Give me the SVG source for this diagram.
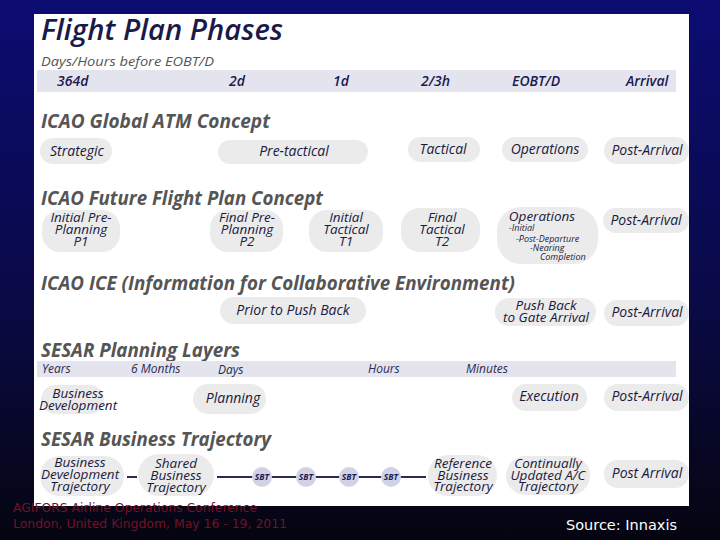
<svg xmlns="http://www.w3.org/2000/svg" width="720" height="540" viewBox="0 0 720 540">
<defs>
<linearGradient id="bg" x1="0" y1="0" x2="0" y2="1">
<stop offset="0" stop-color="#0c0c72"/>
<stop offset="0.55" stop-color="#0a0a48"/>
<stop offset="1" stop-color="#050510"/>
</linearGradient>
<style>
.pill{fill:#ebebeb;}
.band{fill:#e4e4ef;}
.t{font-family:"Open Sans","DejaVu Sans",sans-serif;font-style:italic;font-size:14px;fill:#1a1a40;text-anchor:middle;}
.m{font-family:"Open Sans","DejaVu Sans",sans-serif;font-style:italic;font-size:13.5px;fill:#1a1a40;text-anchor:middle;}
.ts{font-family:"Open Sans","DejaVu Sans",sans-serif;font-style:italic;font-size:9px;fill:#1a1a40;}
.h{font-family:"Open Sans","DejaVu Sans",sans-serif;font-style:italic;font-weight:700;font-size:19px;fill:#555555;}
.b1{font-family:"Open Sans","DejaVu Sans",sans-serif;font-style:italic;font-weight:600;font-size:14px;fill:#1a1a50;}
.b2{font-family:"Open Sans","DejaVu Sans",sans-serif;font-style:italic;font-size:12px;fill:#2a2a50;}
.sbt{fill:#d2d2e6;}
.sbtt{font-family:"Open Sans","DejaVu Sans",sans-serif;font-style:italic;font-weight:700;font-size:8.5px;fill:#1a1a50;text-anchor:middle;}
.conn{stroke:#2a2a5a;stroke-width:2;fill:none;}
.foot{font-family:"DejaVu Sans",Verdana,sans-serif;font-size:13px;fill:#741224;}
</style>
</defs>
<rect x="0" y="0" width="720" height="540" fill="url(#bg)"/>
<rect x="34" y="14" width="655" height="492" fill="#ffffff"/>

<g id="title">
<text x="41" y="40" font-family="'Open Sans','DejaVu Sans',sans-serif" font-style="italic" font-weight="600" font-size="28" fill="#1a1a4a" textLength="242" lengthAdjust="spacingAndGlyphs">Flight Plan Phases</text>
<text x="41" y="66" font-family="'Open Sans','DejaVu Sans',sans-serif" font-style="italic" font-size="13" fill="#555555" textLength="173" lengthAdjust="spacingAndGlyphs">Days/Hours before EOBT/D</text>
</g>

<g id="band-days">
<rect class="band" x="37" y="70" width="639" height="22"/>
<text class="b1" x="57" y="86">364d</text>
<text class="b1" x="229" y="86">2d</text>
<text class="b1" x="333" y="86">1d</text>
<text class="b1" x="421" y="86">2/3h</text>
<text class="b1" x="512" y="86">EOBT/D</text>
<text class="b1" x="626" y="86">Arrival</text>
</g>

<g id="heading-global">
<text class="h" x="41" y="128" textLength="229" lengthAdjust="spacingAndGlyphs">ICAO Global ATM Concept</text>
</g>
<g id="g-strategic"><rect class="pill" x="40" y="138" width="72" height="26" rx="13"/><text class="t" x="77" y="156">Strategic</text></g>
<g id="g-pretactical"><rect class="pill" x="218" y="140" width="150" height="24" rx="12"/><text class="t" x="294" y="156">Pre-tactical</text></g>
<g id="g-tactical"><rect class="pill" x="408" y="137" width="72" height="25" rx="12.5"/><text class="t" x="443" y="154">Tactical</text></g>
<g id="g-operations"><rect class="pill" x="502" y="137" width="86" height="25" rx="12.5"/><text class="t" x="545" y="154">Operations</text></g>
<g id="g-postarrival"><rect class="pill" x="604" y="137" width="85" height="27" rx="13.5"/><text class="t" x="647" y="155">Post-Arrival</text></g>

<g id="heading-future">
<text class="h" x="41" y="205" textLength="282" lengthAdjust="spacingAndGlyphs">ICAO Future Flight Plan Concept</text>
</g>
<g id="f-p1"><rect class="pill" x="42" y="210" width="78" height="42" rx="18"/><text class="m" x="81" y="222">Initial Pre-</text><text class="m" x="81" y="234">Planning</text><text class="m" x="81" y="246">P1</text></g>
<g id="f-p2"><rect class="pill" x="210" y="210" width="73" height="42" rx="18"/><text class="m" x="247" y="222">Final Pre-</text><text class="m" x="247" y="234">Planning</text><text class="m" x="247" y="246">P2</text></g>
<g id="f-t1"><rect class="pill" x="309" y="210" width="74" height="42" rx="18"/><text class="m" x="346" y="222">Initial</text><text class="m" x="346" y="234">Tactical</text><text class="m" x="346" y="246">T1</text></g>
<g id="f-t2"><rect class="pill" x="401" y="208" width="79" height="44" rx="19"/><text class="m" x="442" y="222">Final</text><text class="m" x="442" y="234">Tactical</text><text class="m" x="442" y="246">T2</text></g>
<g id="f-operations"><rect class="pill" x="497" y="207" width="101" height="57" rx="24"/>
<text class="m" x="542" y="221">Operations</text>
<text class="ts" x="509" y="231">-Initial</text>
<text class="ts" x="516" y="242">-Post-Departure</text>
<text class="ts" x="530" y="251">-Nearing</text>
<text class="ts" x="540" y="260">Completion</text>
</g>
<g id="f-postarrival"><rect class="pill" x="603" y="208" width="86" height="25" rx="12.5"/><text class="t" x="646" y="225">Post-Arrival</text></g>

<g id="heading-ice">
<text class="h" x="41" y="290" textLength="474" lengthAdjust="spacingAndGlyphs">ICAO ICE (Information for Collaborative Environment)</text>
</g>
<g id="i-prior"><rect class="pill" x="220" y="297" width="146" height="27" rx="13.5"/><text class="t" x="293" y="315">Prior to Push Back</text></g>
<g id="i-pushback"><rect class="pill" x="495" y="298" width="101" height="28" rx="14"/><text class="m" x="546" y="310">Push Back</text><text class="m" x="546" y="322">to Gate Arrival</text></g>
<g id="i-postarrival"><rect class="pill" x="604" y="300" width="85" height="26" rx="13"/><text class="t" x="647" y="317">Post-Arrival</text></g>

<g id="heading-layers">
<text class="h" x="41" y="357" textLength="199" lengthAdjust="spacingAndGlyphs">SESAR Planning Layers</text>
</g>
<g id="band-layers">
<rect class="band" x="37" y="361" width="639" height="16"/>
<text class="b2" x="42" y="373">Years</text>
<text class="b2" x="131" y="373">6 Months</text>
<text class="b2" x="218" y="374">Days</text>
<text class="b2" x="368" y="373">Hours</text>
<text class="b2" x="466" y="373">Minutes</text>
</g>
<g id="l-business"><rect class="pill" x="41" y="385" width="63" height="29" rx="14.5"/><text class="m" x="78" y="398">Business</text><text class="m" x="78" y="410">Development</text></g>
<g id="l-planning"><rect class="pill" x="193" y="384" width="73" height="30" rx="15"/><text class="t" x="233" y="403">Planning</text></g>
<g id="l-execution"><rect class="pill" x="512" y="384" width="75" height="27" rx="13.5"/><text class="t" x="549" y="401">Execution</text></g>
<g id="l-postarrival"><rect class="pill" x="604" y="384" width="85" height="27" rx="13.5"/><text class="t" x="647" y="401">Post-Arrival</text></g>

<g id="heading-trajectory">
<text class="h" x="41" y="446" textLength="230" lengthAdjust="spacingAndGlyphs">SESAR Business Trajectory</text>
</g>

<g id="connectors">
<line class="conn" x1="127" y1="477" x2="137" y2="477"/>
<line class="conn" x1="217" y1="477" x2="426" y2="477"/>
</g>

<g id="t-bdt"><rect class="pill" x="40" y="456" width="84" height="40" rx="20"/><text class="m" x="80" y="467">Business</text><text class="m" x="80" y="479">Development</text><text class="m" x="80" y="491">Trajectory</text></g>
<g id="t-sbt"><rect class="pill" x="138" y="454" width="76" height="42" rx="21"/><text class="m" x="176" y="468">Shared</text><text class="m" x="176" y="480">Business</text><text class="m" x="176" y="492">Trajectory</text></g>
<g id="sbt1"><circle class="sbt" cx="262" cy="477" r="10"/><text class="sbtt" x="262" y="480">SBT</text></g>
<g id="sbt2"><circle class="sbt" cx="306" cy="477" r="10"/><text class="sbtt" x="306" y="480">SBT</text></g>
<g id="sbt3"><circle class="sbt" cx="349" cy="477" r="10"/><text class="sbtt" x="349" y="480">SBT</text></g>
<g id="sbt4"><circle class="sbt" cx="391" cy="477" r="10"/><text class="sbtt" x="391" y="480">SBT</text></g>
<g id="t-rbt"><rect class="pill" x="428" y="455" width="69" height="41" rx="20"/><text class="m" x="463" y="468">Reference</text><text class="m" x="463" y="480">Business</text><text class="m" x="463" y="491">Trajectory</text></g>
<g id="t-continual"><rect class="pill" x="506" y="456" width="84" height="39" rx="19.5"/><text class="m" x="548" y="468">Continually</text><text class="m" x="548" y="480">Updated A/C</text><text class="m" x="548" y="491">Trajectory</text></g>
<g id="t-postarrival"><rect class="pill" x="604" y="460" width="85" height="28" rx="14"/><text class="t" x="647" y="478">Post Arrival</text></g>

<g id="footer">
<text class="foot" x="13" y="512" textLength="244" lengthAdjust="spacingAndGlyphs">AGIFORS Airline Operations Conference</text>
<text class="foot" x="13" y="528" textLength="274" lengthAdjust="spacingAndGlyphs">London, United Kingdom, May 16 - 19, 2011</text>
<text x="566" y="530" font-family="'DejaVu Sans',Verdana,sans-serif" font-size="14" fill="#ffffff" textLength="111" lengthAdjust="spacingAndGlyphs">Source: Innaxis</text>
</g>
</svg>
